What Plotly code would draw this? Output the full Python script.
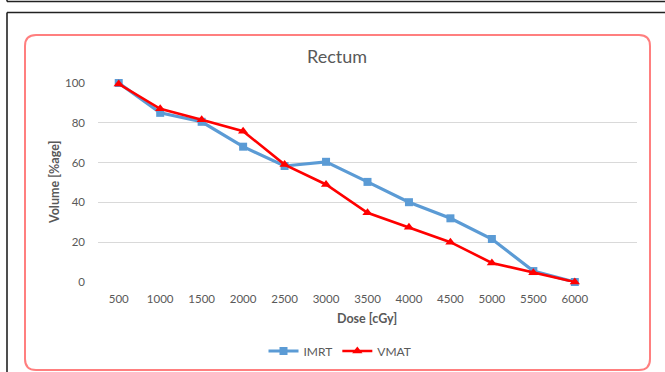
import plotly.graph_objects as go

W, H = 665, 372

dose = [500, 1000, 1500, 2000, 2500, 3000, 3500, 4000, 4500, 5000, 5500, 6000]
imrt = [100, 85, 80.5, 68, 58.3, 60.4, 50.3, 40.1, 32, 21.6, 5.5, 0]
vmat = [99.5, 87, 81.5, 75.8, 59, 49, 34.8, 27.5, 20, 9.6, 4.7, 0]
yticks = [0, 20, 40, 60, 80, 100]

GRAY = "#595959"
FONT = "Lato"


def px(x):
    return x / W


def py(y):
    return 1 - y / H


fig = go.Figure()
fig.add_trace(go.Scatter(
    x=dose, y=imrt, name="IMRT", mode="lines+markers",
    line=dict(color="#5b9bd5", width=3.2),
    marker=dict(symbol="square", size=8, color="#5b9bd5"),
    cliponaxis=False,
))
fig.add_trace(go.Scatter(
    x=dose, y=vmat, name="VMAT", mode="lines+markers",
    line=dict(color="#ff0000", width=2.6),
    marker=dict(symbol="triangle-up", size=9, color="#ff0000"),
    cliponaxis=False,
))

# rounded red frame
x0, x1, y0, y1, r = px(25), px(650), py(35), py(370), 11
rx, ry = r / W, r / H
path = (f"M {x0+rx},{y0} L {x1-rx},{y0} Q {x1},{y0} {x1},{y0-ry} "
        f"L {x1},{y1+ry} Q {x1},{y1} {x1-rx},{y1} L {x0+rx},{y1} "
        f"Q {x0},{y1} {x0},{y1+ry} L {x0},{y0-ry} Q {x0},{y0} {x0+rx},{y0} Z")

shapes = [
    dict(type="path", xref="paper", yref="paper", path=path,
         line=dict(color="#ff7f7f", width=2), layer="below"),
    # outer black frames
    dict(type="line", xref="paper", yref="paper", x0=px(7), x1=px(666), y0=py(1.5), y1=py(1.5),
         line=dict(color="#222222", width=1.6)),
    dict(type="line", xref="paper", yref="paper", x0=px(7), x1=px(7), y0=py(-1), y1=py(1.5),
         line=dict(color="#222222", width=1.6)),
    dict(type="line", xref="paper", yref="paper", x0=px(7), x1=px(666), y0=py(12.5), y1=py(12.5),
         line=dict(color="#222222", width=1.6)),
    dict(type="line", xref="paper", yref="paper", x0=px(7), x1=px(7), y0=py(12.5), y1=py(373),
         line=dict(color="#222222", width=1.6)),
]

annotations = [
    dict(text="Rectum", x=px(337), y=py(56), xref="paper", yref="paper", showarrow=False,
         font=dict(family=FONT, size=18, color=GRAY), xanchor="center", yanchor="middle"),
    dict(text="<b>Dose [cGy]</b>", x=px(367), y=py(318), xref="paper", yref="paper", showarrow=False,
         font=dict(family=FONT, size=12.5, color=GRAY), xanchor="center", yanchor="middle"),
    dict(text="<b>Volume [%age]</b>", x=px(54), y=py(183), xref="paper", yref="paper", showarrow=False,
         textangle=-90, font=dict(family=FONT, size=12.5, color=GRAY), xanchor="center", yanchor="middle"),
]

fig.update_layout(
    width=W, height=H,
    margin=dict(l=0, r=0, t=0, b=0),
    paper_bgcolor="white", plot_bgcolor="white",
    showlegend=True,
    legend=dict(orientation="h", x=px(340), y=py(351), xanchor="center", yanchor="middle",
                font=dict(family=FONT, size=12, color=GRAY), itemwidth=30,
                bgcolor="rgba(0,0,0,0)"),
    xaxis=dict(domain=[px(98), px(637)], range=[250, 6750], tickmode="array",
               tickvals=dose, ticktext=[str(d) for d in dose], showgrid=False,
               zeroline=False, showline=False, ticks="", automargin=False,
               ticklabelstandoff=8,
               tickfont=dict(family=FONT, size=11.5, color=GRAY)),
    yaxis=dict(domain=[py(282), py(83)], range=[0, 100], tickmode="array",
               tickvals=yticks, showgrid=True, gridcolor="#d9d9d9", gridwidth=1,
               zeroline=False, showline=False, ticks="", automargin=False,
               ticklabelstandoff=12,
               tickfont=dict(family=FONT, size=11.5, color=GRAY)),
    shapes=shapes,
    annotations=annotations,
)

fig.write_html("out.html")
